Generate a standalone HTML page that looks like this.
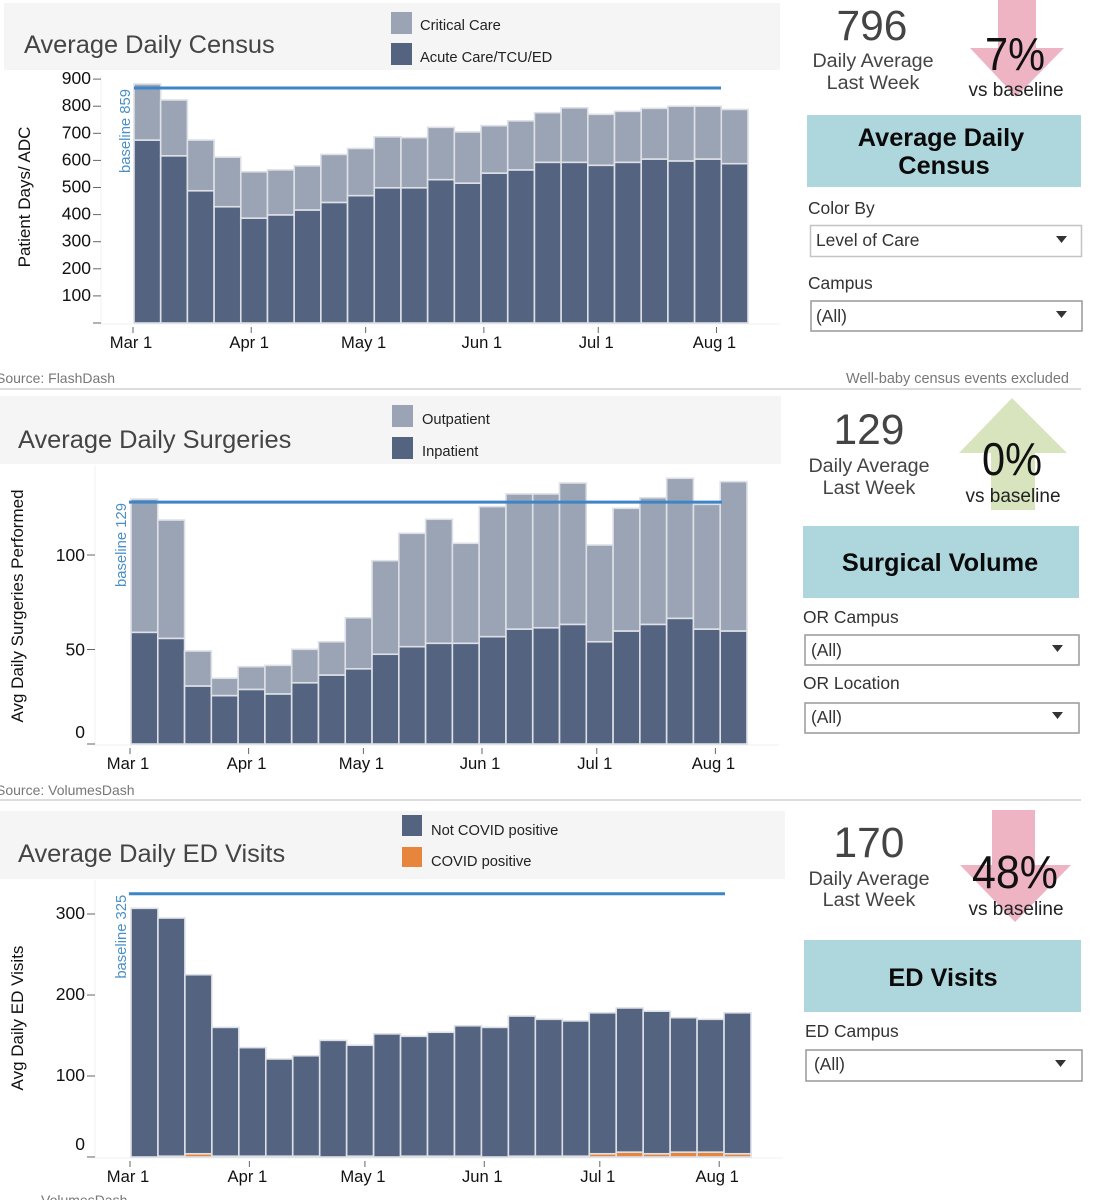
<!DOCTYPE html>
<html lang="en">
<head>
<meta charset="utf-8">
<title>Hospital Volumes Dashboard</title>
<style>
html,body{margin:0;padding:0;background:#fff;width:1093px;height:1200px;overflow:hidden}
svg{display:block;font-family:"Liberation Sans",Arial,sans-serif;filter:blur(0.35px)}
.ttl{font-size:25.4px;fill:#444}
.leg{font-size:14.7px;fill:#222}
.big{font-size:42.5px;fill:#444;text-anchor:middle}
.sub{font-size:19.7px;fill:#444;text-anchor:middle}
.pct{font-size:46px;fill:#111;text-anchor:middle}
.vs{font-size:19px;fill:#222;text-anchor:middle}
.hdr{font-size:25.3px;font-weight:bold;fill:#0a0a0a;text-anchor:middle}
.lbl{font-size:17.4px;fill:#333}
.dd{fill:#fff;stroke:#c4c4c4;stroke-width:1.5}
.src{font-size:14px;fill:#777}
</style>
</head>
<body>
<svg id="dash" xmlns="http://www.w3.org/2000/svg" width="1093" height="1200" viewBox="0 0 1093 1200">
  <rect x="4" y="3" width="776" height="67" fill="#f5f5f5"/>
  <text class="ttl" x="24" y="53">Average Daily Census</text>
  <rect x="391" y="12" width="21" height="22" fill="#9ba4b4"/>
  <text class="leg" x="420" y="30">Critical Care</text>
  <rect x="391" y="43" width="21" height="22" fill="#546380"/>
  <text class="leg" x="420" y="62">Acute Care/TCU/ED</text>

  <rect x="0" y="396" width="781" height="68" fill="#f5f5f5"/>
  <text class="ttl" x="18" y="448">Average Daily Surgeries</text>
  <rect x="392" y="405" width="21" height="22" fill="#9ba4b4"/>
  <text class="leg" x="422" y="424">Outpatient</text>
  <rect x="392" y="437" width="21" height="22" fill="#546380"/>
  <text class="leg" x="422" y="456">Inpatient</text>

  <rect x="0" y="811" width="785" height="68" fill="#f5f5f5"/>
  <text class="ttl" x="18" y="862">Average Daily ED Visits</text>
  <rect x="402" y="815" width="20" height="21" fill="#546380"/>
  <text class="leg" x="431" y="835">Not COVID positive</text>
  <rect x="402" y="847" width="20" height="20" fill="#e8853c"/>
  <text class="leg" x="431" y="866">COVID positive</text>

  <g id="charts"></g>

  <text class="src" x="-4" y="383">Source: FlashDash</text>
  <text class="src" x="1069" y="383" text-anchor="end" style="font-size:14.5px">Well-baby census events excluded</text>
  <line x1="0" y1="389" x2="1081" y2="389" stroke="#c8c8c8" stroke-width="1.2"/>
  <text class="src" x="-4" y="795">Source: VolumesDash</text>
  <line x1="0" y1="800" x2="1081" y2="800" stroke="#c8c8c8" stroke-width="1.2"/>
  <text class="src" x="41" y="1205">VolumesDash</text>

  <!-- census side panel -->
  <text class="big" x="872" y="40">796</text>
  <text class="sub" x="873" y="67">Daily Average</text>
  <text class="sub" x="873" y="89">Last Week</text>
  <polygon points="998,0 1036,0 1036,48 1064,48 1016,97 970,48 998,48" fill="#eeb4c4"/>
  <text class="pct" x="1015" y="70" textLength="60" lengthAdjust="spacingAndGlyphs">7%</text>
  <text class="vs" x="1016" y="96">vs baseline</text>
  <rect x="807" y="115" width="274" height="72" fill="#aed6dd"/>
  <text class="hdr" x="941" y="146">Average Daily</text>
  <text class="hdr" x="944" y="174">Census</text>
  <text class="lbl" x="808" y="214">Color By</text>
  <g>
    <rect class="dd" x="810.5" y="225.5" width="271" height="31"/>
    <text class="lbl" x="816" y="246">Level of Care</text>
    <polygon points="1056,236 1067,236 1061.5,243" fill="#333"/>
  </g>
  <text class="lbl" x="808" y="289">Campus</text>
  <g>
    <rect class="dd" x="811" y="301" width="271" height="30" style="stroke:#999"/>
    <text class="lbl" x="816" y="322">(All)</text>
    <polygon points="1056,311 1067,311 1061.5,318" fill="#333"/>
  </g>

  <!-- surgical side panel -->
  <text class="big" x="869" y="444">129</text>
  <text class="sub" x="869" y="472">Daily Average</text>
  <text class="sub" x="869" y="494">Last Week</text>
  <polygon points="1012,398 1067,453 1035,453 1035,510 991,510 991,453 959,453" fill="#d8e4bd"/>
  <text class="pct" x="1012" y="475" textLength="60" lengthAdjust="spacingAndGlyphs">0%</text>
  <text class="vs" x="1013" y="502">vs baseline</text>
  <rect x="803" y="526" width="276" height="72" fill="#aed6dd"/>
  <text class="hdr" x="940" y="571">Surgical Volume</text>
  <text class="lbl" x="803" y="623">OR Campus</text>
  <g>
    <rect class="dd" x="805" y="635" width="274" height="30" style="stroke:#999"/>
    <text class="lbl" x="811" y="656">(All)</text>
    <polygon points="1052,645 1063,645 1057.5,652" fill="#333"/>
  </g>
  <text class="lbl" x="803" y="689">OR Location</text>
  <g>
    <rect class="dd" x="805" y="703" width="274" height="30" style="stroke:#999"/>
    <text class="lbl" x="811" y="723">(All)</text>
    <polygon points="1052,712 1063,712 1057.5,719" fill="#333"/>
  </g>

  <!-- ED side panel -->
  <text class="big" x="869" y="857">170</text>
  <text class="sub" x="869" y="885">Daily Average</text>
  <text class="sub" x="869" y="906">Last Week</text>
  <polygon points="992,810 1035,810 1035,865 1071,865 1015,922 960,865 992,865" fill="#eeb4c4"/>
  <text class="pct" x="1015" y="888" textLength="86" lengthAdjust="spacingAndGlyphs">48%</text>
  <text class="vs" x="1016" y="915">vs baseline</text>
  <rect x="804" y="940" width="277" height="72" fill="#aed6dd"/>
  <text class="hdr" x="943" y="986">ED Visits</text>
  <text class="lbl" x="805" y="1037">ED Campus</text>
  <g>
    <rect class="dd" x="806" y="1050" width="276" height="31" style="stroke:#999"/>
    <text class="lbl" x="814" y="1070">(All)</text>
    <polygon points="1055,1060 1066,1060 1060.5,1067" fill="#333"/>
  </g>
</svg>

<script>
// Shared x axis: tick labels and the day offset of each label from Mar 1
var tickLabels = ["Mar 1", "Apr 1", "May 1", "Jun 1", "Jul 1", "Aug 1"];
var tickDays = [0, 31, 61, 92, 122, 153];

// Average Daily Census
var censusAcute = [675, 617, 488, 429, 387, 399, 417, 445, 470, 499, 499, 529, 516, 553, 565, 593, 593, 582, 593, 605, 598, 605, 588];
var censusCritical = [207, 206, 187, 183, 171, 166, 163, 177, 174, 188, 185, 193, 189, 175, 181, 183, 201, 188, 188, 187, 202, 195, 200];
var censusTicks = [0, 100, 200, 300, 400, 500, 600, 700, 800, 900];
var censusBaseline = 867;

// Average Daily Surgeries
var surgeriesInpatient = [59.1, 55.9, 30.7, 25.6, 28.9, 26.5, 32.4, 36.5, 39.8, 47.5, 51.5, 53.3, 53.3, 56.8, 60.8, 61.5, 63.3, 54.1, 59.8, 63.3, 66.5, 60.8, 59.8];
var surgeriesOutpatient = [70.5, 62.6, 18.5, 9.2, 12, 15.1, 17.7, 17.6, 27, 49.5, 60, 65.6, 52.9, 68.8, 71.5, 70.8, 74.8, 51.2, 64.9, 67, 74.1, 66, 79];
var surgeriesTicks = [0, 50, 100];
var surgeriesBaseline = 128;

// Average Daily ED Visits
var edCovid = [0, 1, 4, 1, 1, 1, 1, 0, 1, 0, 1, 1, 1, 0, 1, 1, 1, 4, 6, 4, 6, 6, 4];
var edNotCovid = [307, 294, 221, 159, 134, 120, 124, 144, 137, 152, 148, 153, 161, 160, 173, 169, 167, 174, 178, 176, 166, 164, 174];
var edTicks = [0, 100, 200, 300];
var edBaseline = 325;

var SVGNS = "http://www.w3.org/2000/svg";
var root = document.getElementById("charts");

function mk(tag, attrs, parent, txt) {
  var el = document.createElementNS(SVGNS, tag);
  for (var k in attrs) el.setAttribute(k, attrs[k]);
  if (txt !== undefined) el.textContent = txt;
  parent.appendChild(el);
  return el;
}

function drawChart(c) {
  var g = mk("g", {}, root);
  
  

  var n = c.bottomValues.length;
  var band = (c.xEnd - c.xStart) / n;
  function xScale(i) { return c.xStart + band * i; }
  function xDay(d) { return c.xStart + band * d / 7 - 1; }
  function yScale(v) { return c.y0 - v * c.pxPerUnit; }

  // plot frame
  var frameV = mk("line", {x1: c.axisX, x2: c.axisX, y1: c.plotTop, y2: c.y0 + 1, stroke: "#f1f1f1"}, g);
  
  
  var frameH = mk("line", {x1: c.axisX, x2: c.xEnd + 32, y1: c.y0 + 1, y2: c.y0 + 1, stroke: "#f1f1f1"}, g);
  
  

  // bars
  for (var i = 0; i < n; i++) {
    var b = c.bottomValues[i], t = c.topValues[i];
    var x = xScale(i);
    if (b > 0) {
      var rb = mk("rect", {x: x, y: yScale(b), width: band, height: c.y0 - yScale(b), fill: c.bottomColor, stroke: "#dde0e6", "stroke-width": 1.6}, g);
      
      
    }
    var rt = mk("rect", {x: x, y: yScale(b + t), width: band, height: yScale(b) - yScale(b + t), fill: c.topColor, stroke: "#dde0e6", "stroke-width": 1.6}, g);
    
    
  }

  // baseline
  var bl = mk("line", {x1: c.baseX1, x2: c.baseX2, y1: yScale(c.baseline), y2: yScale(c.baseline), stroke: "#3d85c6", "stroke-width": 3}, g);
  
  
  var bx = c.baseLabelX, by = yScale(c.baseline) + 1;
  var bt = mk("text", {x: bx, y: by, "text-anchor": "end", "font-size": 14.8, fill: "#4a8fc7", transform: "rotate(-90 " + bx + " " + by + ")"}, g, c.baseLabel);
  
  

  // y axis ticks
  c.yTicks.forEach(function (v) {
    var y = yScale(v);
    var tk = mk("line", {x1: c.axisX - 8, x2: c.axisX, y1: y, y2: y, stroke: "#666", "stroke-width": 1}, g);
    
    
    if (v === 0 && !c.showZero) return;
    var ly = y + c.labelDy - (v === 0 ? 12 : 0);
    var tl = mk("text", {x: c.axisX - 10, y: ly, "text-anchor": "end", "font-size": 17.5, fill: "#111"}, g, String(v));
    
    
  });

  // x axis ticks
  tickLabels.forEach(function (label, i) {
    var x = xDay(tickDays[i]);
    var tk = mk("line", {x1: x, x2: x, y1: c.y0 + 4, y2: c.y0 + 10, stroke: "#666", "stroke-width": 1}, g);
    
    
    var tl = mk("text", {x: x - 2, y: c.y0 + 25, "text-anchor": "middle", "font-size": 16.6, fill: "#111"}, g, label);
    
    
  });

  // y axis title
  var tx = mk("text", {x: c.titleX, y: c.titleY, "text-anchor": "middle", "font-size": 17, fill: "#111", transform: "rotate(-90 " + c.titleX + " " + c.titleY + ")"}, g, c.yTitle);
  
  
}

drawChart({name: "census", bottomValues: censusAcute, topValues: censusCritical, bottomColor: "#546380", topColor: "#9ba4b4",
  xStart: 134, xEnd: 748, y0: 323, pxPerUnit: 0.271, axisX: 101, plotTop: 76, yTicks: censusTicks, showZero: false, labelDy: 5,
  baseline: censusBaseline, baseX1: 134, baseX2: 721, baseLabelX: 130, baseLabel: "baseline 859",
  yTitle: "Patient Days/ ADC", titleX: 30, titleY: 197});

drawChart({name: "surgeries", bottomValues: surgeriesInpatient, topValues: surgeriesOutpatient, bottomColor: "#546380", topColor: "#9ba4b4",
  xStart: 131, xEnd: 747, y0: 744, pxPerUnit: 1.89, axisX: 95, plotTop: 466, yTicks: surgeriesTicks, showZero: true, labelDy: 6,
  baseline: surgeriesBaseline, baseX1: 129, baseX2: 722, baseLabelX: 126, baseLabel: "baseline 129",
  yTitle: "Avg Daily Surgeries Performed", titleX: 23, titleY: 606});

drawChart({name: "ed-visits", bottomValues: edCovid, topValues: edNotCovid, bottomColor: "#e8853c", topColor: "#546380",
  xStart: 131, xEnd: 751, y0: 1157, pxPerUnit: 0.81, axisX: 95, plotTop: 880, yTicks: edTicks, showZero: true, labelDy: 5,
  baseline: edBaseline, baseX1: 129, baseX2: 725, baseLabelX: 126, baseLabel: "baseline 325",
  yTitle: "Avg Daily ED Visits", titleX: 23, titleY: 1018});
</script>
</body>
</html>
